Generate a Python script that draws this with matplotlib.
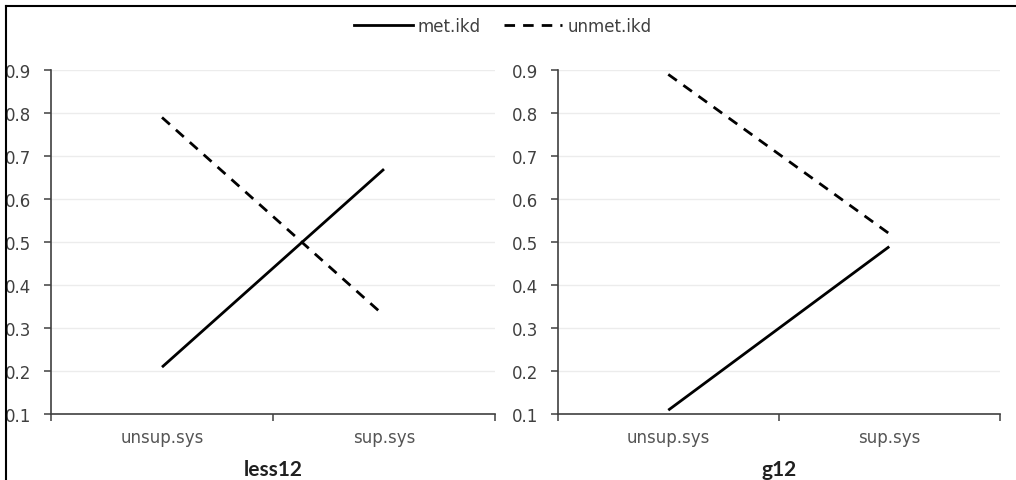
# interaction plot: met.ikd vs unmet.ikd for less12 / g12 groups

import matplotlib
matplotlib.use("Agg")
import matplotlib.pyplot as plt
from matplotlib.lines import Line2D


categories = ["unsup.sys", "sup.sys"]
panels = ["less12", "g12"]
series_names = ["met.ikd", "unmet.ikd"]

less12_met = [0.21, 0.67]
less12_unmet = [0.79, 0.33]
g12_met = [0.11, 0.49]
g12_unmet = [0.89, 0.52]

y_ticks = [0.1, 0.2, 0.3, 0.4, 0.5, 0.6, 0.7, 0.8, 0.9]

LW = 2.0
DASH = (0, (3.8, 2.9))


def draw_panel(ax, met, unmet, title):
    x = range(len(categories))
    ax.plot(x, met, color="black", lw=LW, solid_capstyle="butt")
    ax.plot(x, unmet, color="black", lw=LW, linestyle=DASH,
            dash_capstyle="butt")

    ax.set_xlim(-0.5, len(categories) - 0.5)
    ax.set_ylim(0.1, 0.9)
    ax.set_yticks(y_ticks)
    ax.set_yticklabels(["%.1f" % v for v in y_ticks])
    ax.yaxis.grid(True, color="#ececec", lw=1)
    ax.set_axisbelow(True)

    # category labels on minor ticks, tick marks at the boundaries
    ax.set_xticks([-0.5, 0.5, 1.5])
    ax.set_xticklabels([])
    ax.set_xticks([0, 1], minor=True)
    ax.set_xticklabels(categories, minor=True)
    ax.tick_params(axis="x", which="major", length=5, width=1.1, color="#404040")
    ax.tick_params(axis="x", which="minor", length=0, pad=10,
                   labelsize=12, labelcolor="#555555")
    ax.tick_params(axis="y", length=5, width=1.1, color="#404040", pad=9,
                   labelsize=12, labelcolor="#404040")

    for side in ["top", "right"]:
        ax.spines[side].set_visible(False)
    for side in ["left", "bottom"]:
        ax.spines[side].set_color("#404040")
        ax.spines[side].set_linewidth(1.2)

    ax.set_xlabel(title, fontfamily="Lato", fontweight="bold", fontsize=15,
                  color="#202020", labelpad=9)


def main():
    plt.rcParams["font.family"] = ["DejaVu Sans"]
    fig = plt.figure(figsize=(10.16, 4.81), dpi=100)

    ax1 = fig.add_axes([0.0502, 0.1362, 0.437, 0.716])
    ax2 = fig.add_axes([0.549, 0.1362, 0.435, 0.716])

    draw_panel(ax1, less12_met, less12_unmet, panels[0])
    draw_panel(ax2, g12_met, g12_unmet, panels[1])

    handles = [
        Line2D([], [], color="black", lw=LW),
        Line2D([], [], color="black", lw=LW, linestyle=DASH),
    ]
    fig.legend(handles, series_names, loc="center", bbox_to_anchor=(0.495, 0.944),
               ncol=2, frameon=False, fontsize=12, handlelength=3.5,
               handletextpad=0.3, columnspacing=1.4, labelcolor="#404040")

    # frame lines of the surrounding box
    fig.add_artist(Line2D([6 / 1016, 1.0], [1 - 7 / 481, 1 - 7 / 481],
                          color="black", lw=1.5, transform=fig.transFigure))
    fig.add_artist(Line2D([6 / 1016, 6 / 1016], [0.0, 1 - 7 / 481],
                          color="black", lw=1.5, transform=fig.transFigure))

    fig.savefig("out.png", dpi=100)


if __name__ == "__main__":
    main()
